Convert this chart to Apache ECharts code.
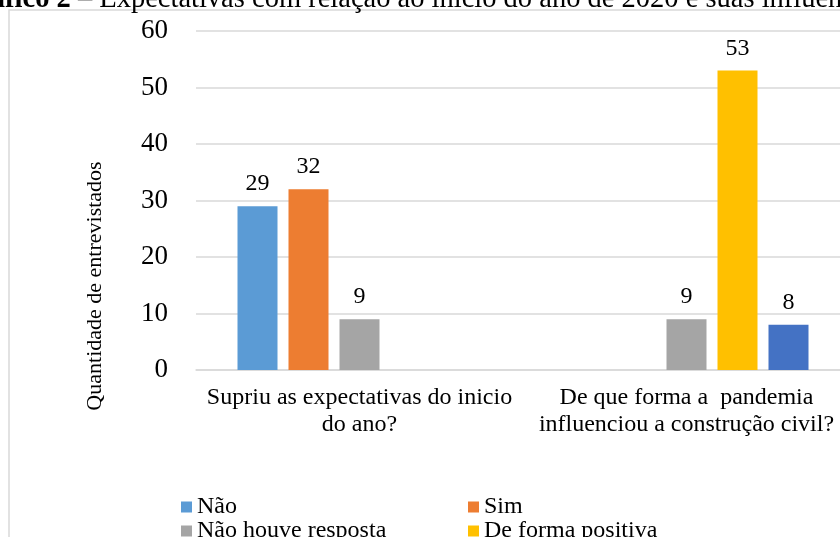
<!DOCTYPE html>
<html>
<head>
<meta charset="utf-8">
<script src="https://cdn.jsdelivr.net/npm/echarts@6/dist/echarts.min.js"></script>
<style>
html,body{margin:0;padding:0;background:#fff;}
#chart{width:840px;height:537px;}
</style>
</head>
<body>
<div id="chart"></div>
<script>
var categories = ['Supriu as expectativas do inicio\ndo ano?', 'De que forma a  pandemia\ninfluenciou a construção civil?'];
var seriesNames = ['Não', 'Sim', 'Não houve resposta', 'De forma positiva', 'De forma negativa'];
var naoValues = [29, null];
var simValues = [32, null];
var semRespostaValues = [9, 9];
var positivaValues = [null, 53];
var negativaValues = [null, 8];
var yTicks = [0, 10, 20, 30, 40, 50, 60];
var colors = ['#5B9BD5', '#ED7D31', '#A5A5A5', '#FFC000', '#4472C4'];

var FONT = 'Liberation Serif, Times New Roman, serif';
var allValues = [naoValues, simValues, semRespostaValues, positivaValues, negativaValues];

var series = seriesNames.map(function (name, i) {
  return {
    name: name,
    type: 'bar',
    data: allValues[i],
    barWidth: 40,
    barGap: '27.5%',
    itemStyle: { color: colors[i] },
    label: {
      show: true,
      position: 'top',
      distance: 10,
      color: '#000',
      fontFamily: FONT,
      fontSize: 24
    }
  };
});

// legend layout: two columns, rows 24px apart (third row falls below the visible area)
var legendSlots = [
  { left: 181, top: 495 },
  { left: 468, top: 495 },
  { left: 181, top: 519 },
  { left: 468, top: 519 },
  { left: 181, top: 543 }
];
var legends = seriesNames.map(function (name, i) {
  return {
    left: legendSlots[i].left,
    top: legendSlots[i].top,
    itemWidth: 11,
    itemHeight: 11,
    itemGap: 0,
    icon: 'rect',
    padding: 0,
    data: [name],
    textStyle: { color: '#000', fontFamily: FONT, fontSize: 24 }
  };
});

var chart = echarts.init(document.getElementById('chart'), null, { renderer: 'canvas' });
chart.setOption({
  animation: false,
  backgroundColor: '#fff',
  color: colors,
  grid: { left: 196, top: 31, width: 654, height: 339, containLabel: false, outerBoundsMode: 'none' },
  xAxis: {
    type: 'category',
    data: categories,
    axisLine: { show: true, lineStyle: { color: '#d9d9d9', width: 1.5 } },
    axisTick: { show: false },
    axisLabel: {
      margin: 14,
      color: '#000',
      fontFamily: FONT,
      fontSize: 24,
      lineHeight: 27,
      interval: 0
    }
  },
  yAxis: {
    type: 'value',
    min: yTicks[0],
    max: yTicks[yTicks.length - 1],
    interval: 10,
    axisLine: { show: false },
    axisTick: { show: false },
    splitLine: { show: true, lineStyle: { color: '#d9d9d9', width: 1.5 } },
    axisLabel: {
      margin: 28,
      color: '#000',
      fontFamily: FONT,
      fontSize: 27
    }
  },
  legend: legends,
  graphic: [
    {
      type: 'rect',
      silent: true,
      z: -1,
      shape: { x: 9, y: 10, width: 900, height: 600 },
      style: { fill: 'none', stroke: '#d9d9d9', lineWidth: 1.5 }
    },
    {
      type: 'text',
      silent: true,
      x: 95,
      y: 286,
      rotation: Math.PI / 2,
      style: {
        text: 'Quantidade de entrevistados',
        fill: '#000',
        font: '22px ' + FONT,
        textAlign: 'center',
        textVerticalAlign: 'middle'
      }
    },
    {
      type: 'text',
      silent: true,
      x: -44,
      y: -15,
      style: {
        text: '{b|Gráfico 2}{r| – Expectativas com relação ao início do ano de 2020 e suas influências}',
        textVerticalAlign: 'top',
        rich: {
          b: { fontFamily: FONT, fontSize: 28.5, fontWeight: 'bold', fill: '#000' },
          r: { fontFamily: FONT, fontSize: 28.5, fill: '#000' }
        }
      }
    }
  ],
  series: series
});
</script>
</body>
</html>
